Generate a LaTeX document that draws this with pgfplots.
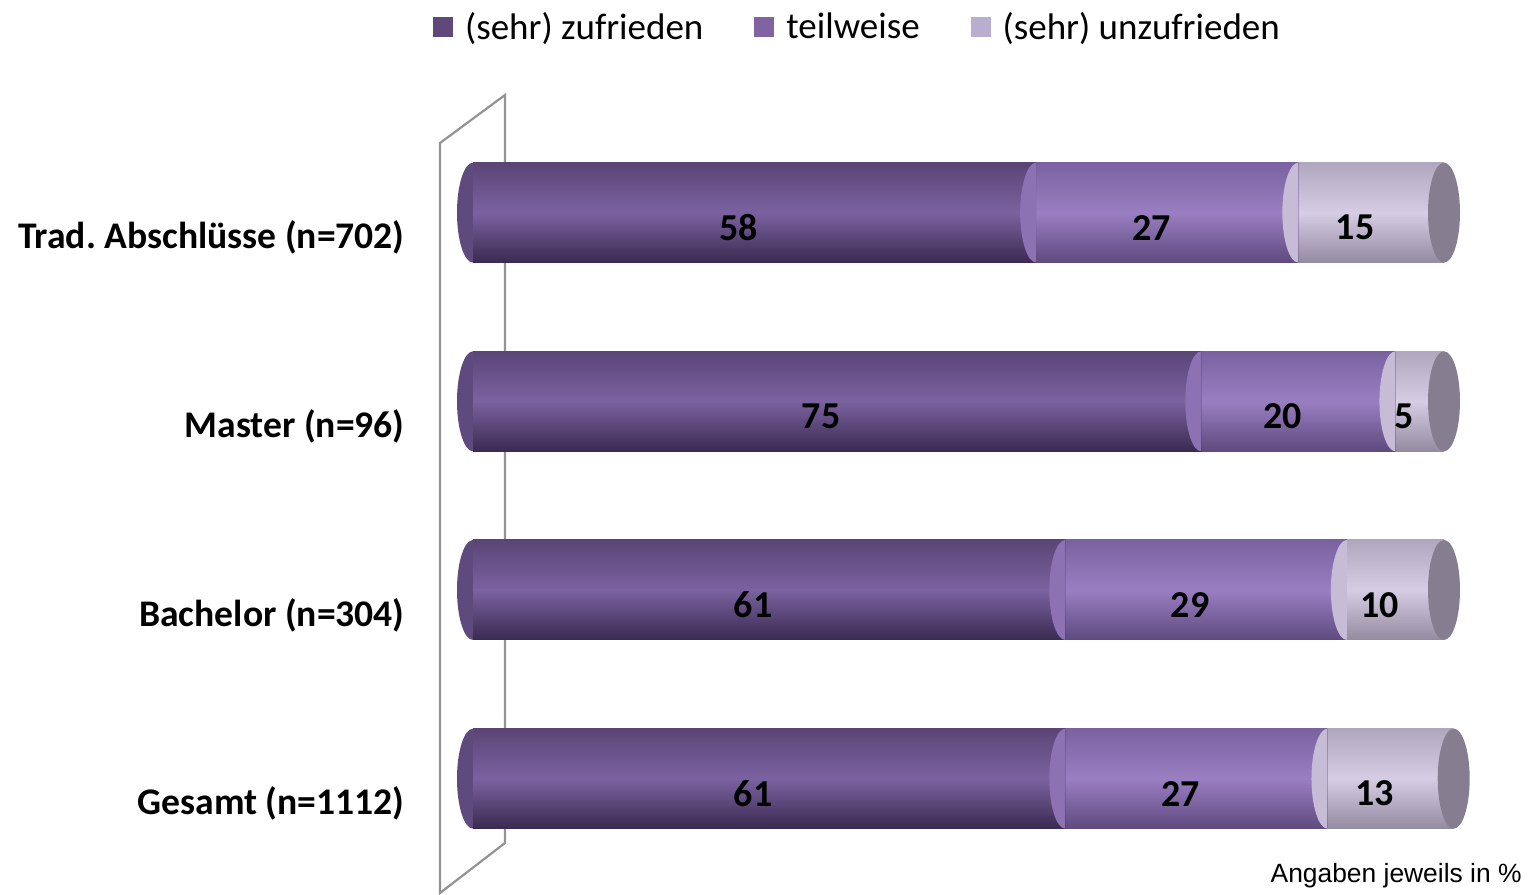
\documentclass[border=0pt]{standalone}
\usepackage{pgfplots}
\pgfplotsset{compat=1.18}
\usepackage{fontspec}
\setmainfont{Carlito}
\newfontfamily\arialfont{Liberation Sans}
\definecolor{cA}{HTML}{5F497A}
\definecolor{cB}{HTML}{8064A2}
\definecolor{cC}{HTML}{B9AECF}
\definecolor{cAt}{HTML}{5A4576}
\definecolor{cAm}{HTML}{7B62A0}
\definecolor{cAb}{HTML}{3A2A50}
\definecolor{cBt}{HTML}{7A62A0}
\definecolor{cBm}{HTML}{9A7EC2}
\definecolor{cBb}{HTML}{5E4A7E}
\definecolor{cCt}{HTML}{B0A7BE}
\definecolor{cCm}{HTML}{D6CDE5}
\definecolor{cCb}{HTML}{948BA1}
\definecolor{capL}{HTML}{5F4A7E}
\definecolor{capB}{HTML}{8C71B3}
\definecolor{capC}{HTML}{C6BCD6}
\definecolor{capR}{HTML}{867D91}
\definecolor{wall}{HTML}{939393}
\pgfdeclareplotmark{lcap}{%
  \pgfpathmoveto{\pgfpoint{0pt}{25pt}}%
  \pgfpatharc{90}{270}{8pt and 25pt}%
  \pgfpathclose
  \pgfusepathqfill}
\pgfdeclareplotmark{fcap}{%
  \pgfpathellipse{\pgfpointorigin}{\pgfpoint{8pt}{0pt}}{\pgfpoint{0pt}{25pt}}%
  \pgfusepathqfill}
\pgfplotsset{myax/.style={at={(236.5pt,11pt)}, anchor=south west, scale only axis,
  width=485.5pt, height=377.35pt, xmin=0, xmax=100, ymin=-0.5, ymax=3.5, clip=false},
  segA/.style={draw=none, top color=cAt, bottom color=cAb, middle color=cAm},
  segB/.style={draw=none, top color=cBt, bottom color=cBb, middle color=cBm},
  segC/.style={draw=none, top color=cCt, bottom color=cCb, middle color=cCm}}
\begin{document}
\begin{tikzpicture}
\path (0,0) rectangle (764pt,447.5pt);
% back wall
\draw[wall, line width=1.1pt] (220pt,1pt) -- (220pt,376pt) -- (252.5pt,400pt) -- (252.5pt,26pt) -- cycle;
% bars: one plot per bar so each bar gets its own cylinder shading;
% values are cumulative ends of the segments (drawn back to front)
\begin{axis}[myax, hide axis, xbar, bar shift=0pt, bar width=50pt]
% (sehr) unzufrieden: ends at total
\addplot[segC] coordinates {(101,0)};
\addplot[segC] coordinates {(100,1)};
\addplot[segC] coordinates {(100,2)};
\addplot[segC] coordinates {(100,3)};
% teilweise: ends at zufrieden + teilweise
\addplot[segB] coordinates {(88,0)};
\addplot[segB] coordinates {(90,1)};
\addplot[segB] coordinates {(95,2)};
\addplot[segB] coordinates {(85,3)};
% (sehr) zufrieden
\addplot[segA] coordinates {(61,0)};
\addplot[segA] coordinates {(61,1)};
\addplot[segA] coordinates {(75,2)};
\addplot[segA] coordinates {(58,3)};
\end{axis}
% caps, labels, legend
\begin{axis}[myax, axis line style={draw=none}, major tick length=0pt,
  xtick=\empty, ytick={0,1,2,3},
  yticklabels={Gesamt (n=1112), Bachelor (n=304), Master (n=96), Trad.\ Abschlüsse (n=702)},
  yticklabel style={font=\bfseries\fontsize{18.8}{22}\selectfont, anchor=east, inner sep=0pt, xshift=-34pt, yshift=-12.5pt},
  legend columns=3,
  legend image code/.code={\fill[#1] (0pt,-5pt) rectangle (10pt,5pt);},
  legend style={at={(0.397,1.121)}, anchor=center, draw=none, fill=none,
    font=\fontsize{18.5}{22}\selectfont,
    /tikz/every odd column/.append style={column sep=4pt},
    /tikz/every even column/.append style={column sep=23.5pt}},
]
\addplot[forget plot, only marks, mark=lcap, mark options={fill=capL, draw=none}] coordinates {(0,0) (0,1) (0,2) (0,3)};
\addplot[forget plot, only marks, mark=lcap, mark options={fill=capB, draw=none}] coordinates {(61,0) (61,1) (75,2) (58,3)};
\addplot[forget plot, only marks, mark=lcap, mark options={fill=capC, draw=none}] coordinates {(88,0) (90,1) (95,2) (85,3)};
\addplot[forget plot, only marks, mark=fcap, mark options={fill=capR, draw=none}] coordinates {(101,0) (100,1) (100,2) (100,3)};
\addplot[forget plot, draw=none, mark=none, nodes near coords, point meta=explicit symbolic,
  every node near coord/.append style={font=\bfseries\fontsize{19}{22}\selectfont, anchor=center, xshift=-8pt, yshift=-7.5pt, text=black}]
  table[meta=lab] {
x y lab
30.5 0 61
74.5 0 27
94.5 0 13
30.5 1 61
75.5 1 29
95 1 10
37.5 2 75
85 2 20
97.5 2 5
29 3 58
71.5 3 27
92.5 3 15
};
\addlegendimage{fill=cA, draw=none}
\addlegendimage{fill=cB, draw=none}
\addlegendimage{fill=cC, draw=none}
\legend{(sehr) zufrieden, teilweise, (sehr) unzufrieden}
\end{axis}
\node[anchor=east, inner sep=0pt, font=\arialfont\fontsize{13.2}{15}\selectfont] at (761pt,9.5pt) {Angaben jeweils in \%};
\end{tikzpicture}
\end{document}
